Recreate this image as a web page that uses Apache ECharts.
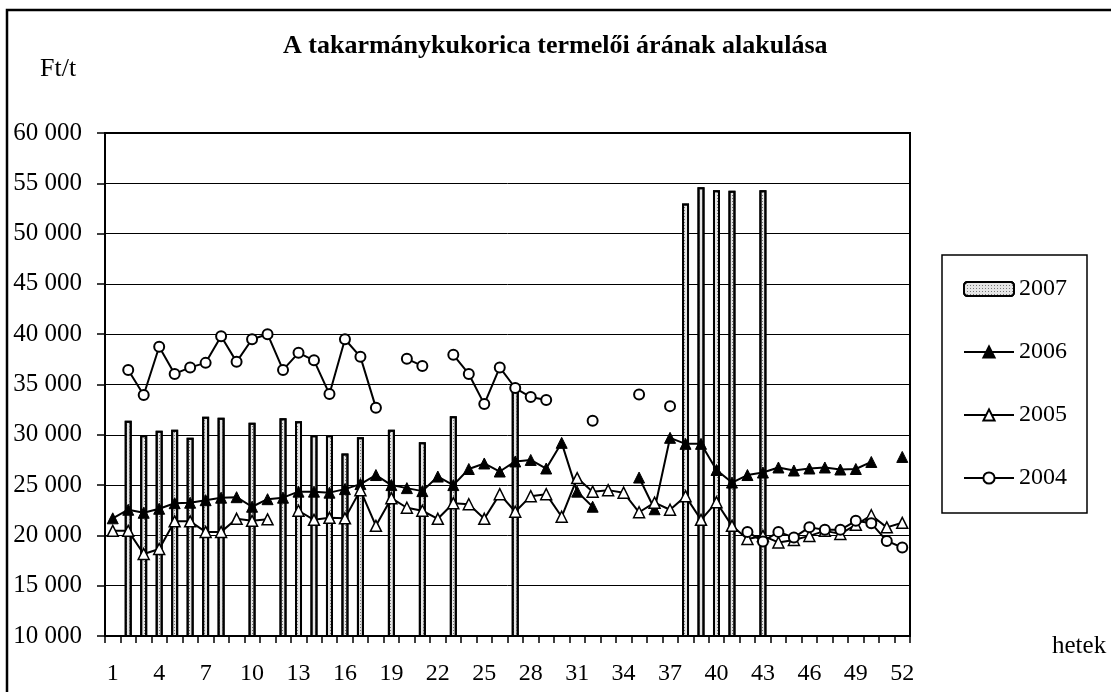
<!DOCTYPE html>
<html>
<head>
<meta charset="utf-8">
<script src="https://cdn.jsdelivr.net/npm/echarts@6/dist/echarts.min.js"></script>
<style>
  html, body { margin: 0; padding: 0; background: #fff; }
  #chart { width: 1111px; height: 692px; }
</style>
</head>
<body>
<div id="chart"></div>
<script>
// weeks on the x axis
const weeks = ['1','2','3','4','5','6','7','8','9','10','11','12','13','14','15','16','17','18','19','20',
  '21','22','23','24','25','26','27','28','29','30','31','32','33','34','35','36','37','38','39','40',
  '41','42','43','44','45','46','47','48','49','50','51','52'];

// Ft/t, null = no data that week
const y2007 = [null, 31400, 29950, 30400, 30500, 29700, 31800, 31700, null, 31200,
  null, 31650, 31350, 29950, 29950, 28150, 29750, null, 30500, null,
  29250, null, 31850, null, null, null, 34800, null, null, null,
  null, null, null, null, null, null, null, 53000, 54600, 54300,
  54250, null, 54300, null, null, null, null, null, null, null,
  null, null];
const y2006 = [21700, 22550, 22250, 22650, 23200, 23250, 23500, 23750, 23800, 22850,
  23600, 23750, 24350, 24350, 24250, 24600, 25100, 26000, 25000, 24700,
  24400, 25850, 25000, 26600, 27150, 26350, 27350, 27500, 26650, 29200,
  24350, 22850, null, null, 25750, 22600, 29700, 29100, 29100, 26500,
  25250, 26000, 26250, 26750, 26450, 26650, 26750, 26550, 26600, 27300,
  null, 27800];
const y2005 = [20450, 20450, 18150, 18650, 21400, 21400, 20350, 20350, 21650, 21450,
  21600, null, 22450, 21550, 21750, 21700, 24500, 20950, 23700, 22750,
  22450, 21650, 23200, 23100, 21650, 24100, 22350, 23900, 24100, 21850,
  25700, 24350, 24500, 24250, 22300, 23250, 22550, 23900, 21550, 23300,
  20950, 19650, 19950, 19300, 19550, 19950, 20450, 20150, 21050, 22000,
  20800, 21250];
const y2004 = [null, 36450, 33950, 38750, 36050, 36700, 37150, 39800, 37250, 39500,
  40000, 36450, 38150, 37400, 34050, 39500, 37750, 32700, null, 37550,
  36850, null, 37950, 36050, 33050, 36700, 34650, 33750, 33450, null,
  null, 31400, null, null, 34000, null, 32850, null, null, null,
  null, 20350, 19400, 20350, 19800, 20800, 20550, 20550, 21450, 21200,
  19450, 18800];

const FONT = 'Liberation Serif';

function thousands(v) {
  return String(v).replace(/\B(?=(\d{3})+(?!\d))/g, ' ');
}

const chart = echarts.init(document.getElementById('chart'));

const lineBase = {
  type: 'line',
  connectNulls: false,
  showSymbol: true,
  showAllSymbol: true,
  lineStyle: { color: '#000', width: 2 },
  emphasis: { disabled: true }
};

chart.setOption({
  animation: false,
  backgroundColor: '#fff',
  title: {
    text: 'A takarmánykukorica termelői árának alakulása',
    left: 278,
    top: 28,
    textStyle: { fontFamily: FONT, fontSize: 26, fontWeight: 'bold', color: '#000' }
  },
  graphic: [
    {
      type: 'rect',
      shape: { x: 7, y: 10, width: 1300, height: 900 },
      style: { fill: 'none', stroke: '#000', lineWidth: 2.5 },
      silent: true
    },
    {
      type: 'text',
      x: 40, y: 69,
      style: { text: 'Ft/t', font: '26px "Liberation Serif"', fill: '#000',
        textAlign: 'left', textVerticalAlign: 'middle', align: 'left', verticalAlign: 'middle' }
    },
    {
      type: 'text',
      x: 1052, y: 646,
      style: { text: 'hetek', font: '25px "Liberation Serif"', fill: '#000',
        textAlign: 'left', textVerticalAlign: 'middle', align: 'left', verticalAlign: 'middle' }
    }
  ],
  legend: {
    orient: 'vertical',
    left: 942,
    top: 255,
    padding: [22, 20, 23, 21],
    itemGap: 39,
    itemWidth: 50,
    itemHeight: 14,
    borderColor: '#000',
    borderWidth: 1.5,
    backgroundColor: '#fff',
    textStyle: { fontFamily: FONT, fontSize: 24, color: '#000', padding: [0, 0, 0, 0] },
    data: ['2007', '2006', '2005', '2004']
  },
  grid: { left: 105, right: 201, top: 133, bottom: 56, show: true, borderColor: '#000', borderWidth: 2, backgroundColor: '#fff' },
  xAxis: {
    type: 'category',
    data: weeks,
    boundaryGap: true,
    axisLine: { lineStyle: { color: '#000', width: 2 } },
    axisTick: { show: true, interval: 0, length: 7, lineStyle: { color: '#000', width: 1.5 } },
    axisLabel: { interval: 2, margin: 26, fontFamily: FONT, fontSize: 24, color: '#000' },
    splitLine: { show: false }
  },
  yAxis: {
    type: 'value',
    min: 10000,
    max: 60000,
    interval: 5000,
    axisLine: { show: true, lineStyle: { color: '#000', width: 2 } },
    axisTick: { show: true, length: 8, lineStyle: { color: '#000', width: 1.5 } },
    axisLabel: { margin: 23, fontFamily: FONT, fontSize: 25, color: '#000', formatter: thousands },
    splitLine: { lineStyle: { color: '#000', width: 1 } }
  },
  series: [
    {
      name: '2007',
      type: 'bar',
      data: y2007,
      barWidth: 7,
      clip: true,
      itemStyle: {
        color: '#e6e6e6',
        borderColor: '#000',
        borderWidth: 2,
        decal: { symbol: 'rect', symbolSize: 1, dashArrayX: [1, 2], dashArrayY: [1, 2], color: '#777' }
      },
      emphasis: { disabled: true }
    },
    Object.assign({}, lineBase, {
      name: '2006',
      data: y2006,
      symbol: 'triangle',
      symbolSize: 11,
      itemStyle: { color: '#000', borderColor: '#000', borderWidth: 1 }
    }),
    Object.assign({}, lineBase, {
      name: '2005',
      data: y2005,
      symbol: 'triangle',
      symbolSize: 11,
      itemStyle: { color: '#fff', borderColor: '#000', borderWidth: 1.5 }
    }),
    Object.assign({}, lineBase, {
      name: '2004',
      data: y2004,
      symbol: 'circle',
      symbolSize: 10,
      itemStyle: { color: '#fff', borderColor: '#000', borderWidth: 2 }
    })
  ]
});
</script>
</body>
</html>
